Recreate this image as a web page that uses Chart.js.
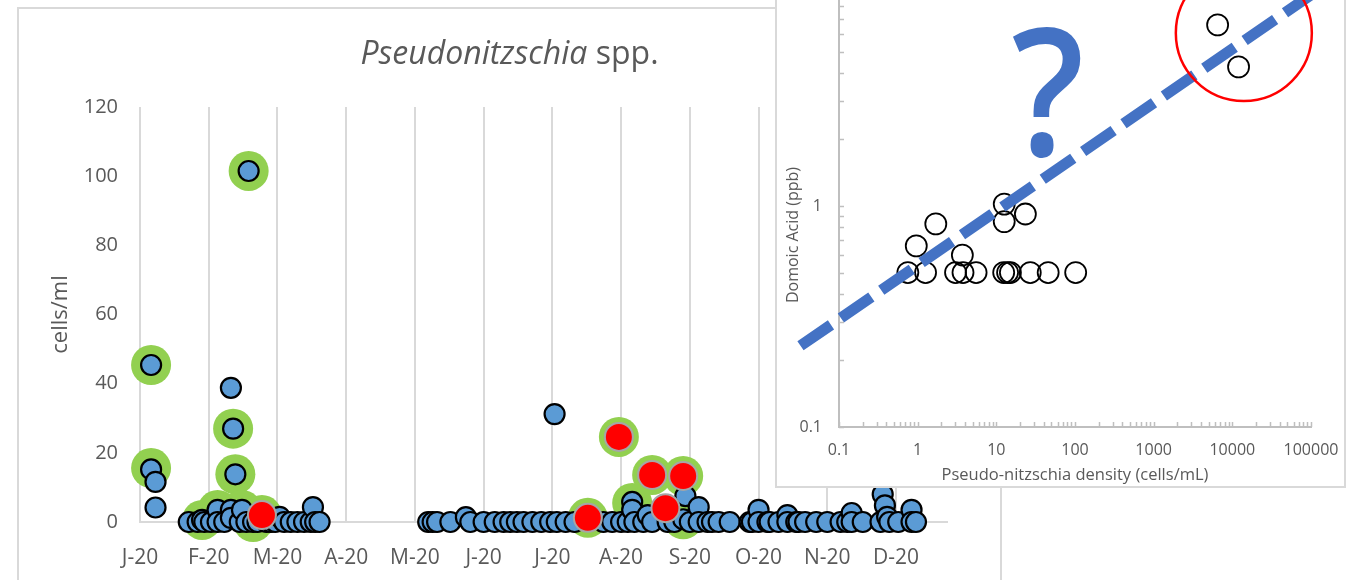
<!DOCTYPE html>
<html>
<head>
<meta charset="utf-8">
<script src="https://cdn.jsdelivr.net/npm/chart.js@4.4.1/dist/chart.umd.min.js"></script>
<style>
  html, body { margin: 0; padding: 0; background: #fff; width: 1350px; height: 580px; overflow: hidden; }
  body { position: relative; font-family: "Open Sans", sans-serif; }
  #frame { position: absolute; left: 17px; top: 7px; width: 985px; height: 640px; border: 2px solid #d9d9d9; box-sizing: border-box; }
  #cellsChart { position: absolute; left: 0; top: 0; }
  #mainTitle { position: absolute; left: 17px; top: 36px; width: 985px; text-align: center; font-size: 32px; line-height: 32px; color: #595959; white-space: nowrap; }
  #insetBox { position: absolute; left: 775px; top: -12px; width: 571px; height: 500px; border: 2px solid #d9d9d9; box-sizing: border-box; background: #fff; }
  #daChart { position: absolute; left: 776px; top: -60px; }
  #daTitle { position: absolute; left: 692px; top: 225px; width: 200px; height: 20px; line-height: 20px; text-align: center; font-size: 16px; color: #595959; transform: rotate(-90deg); white-space: nowrap; }
</style>
</head>
<body>
<div id="frame"></div>
<canvas id="cellsChart" width="1000" height="580" style="width:1000px;height:580px"></canvas>
<div id="mainTitle"><i>Pseudonitzschia</i> spp.</div>
<div id="insetBox"></div>
<canvas id="daChart" width="590" height="546" style="width:590px;height:546px"></canvas>
<div id="daTitle">Domoic Acid (ppb)</div>
<script>
// ---- Pseudonitzschia counts through 2020 (x = day of year, y = cells/ml) ----
const monthLabels = ['J-20', 'F-20', 'M-20', 'A-20', 'M-20', 'J-20', 'J-20', 'A-20', 'S-20', 'O-20', 'N-20', 'D-20'];
const monthTickDays = [0, 31, 62, 93, 124, 155, 186, 217, 248, 279, 310, 341];
const cellTicks = [0, 20, 40, 60, 80, 100, 120];

// every counted sample
const sampleDay = [
  5, 5, 7, 7, 41, 42, 43, 49,
  22, 26, 28, 29, 32, 35, 35, 38, 41, 41, 45, 46, 48, 51, 53, 57, 59, 61, 63, 65, 68, 71, 74, 77, 78, 79, 81,
  130, 132, 134, 140, 147, 149, 155, 160, 164, 167, 170, 173, 177, 181, 185, 187, 188, 192, 196, 202,
  209, 213, 217, 220, 222, 222, 223, 227, 229, 231, 238, 241, 245, 246, 248, 252, 252, 256, 258, 261, 266,
  275, 276, 279, 279, 283, 284, 288, 292, 292, 296, 297, 300, 305, 310, 316, 319, 321, 321, 326,
  334, 335, 336, 337, 338, 342, 348, 348, 350
];
const sampleCells = [
  45.4, 15.2, 11.6, 4.2, 38.8, 27.0, 13.8, 101.5,
  0, 0, 0.6, 0, 0, 3.5, 0, 0, 3.5, 1.2, 0, 3.5, 0, 0, 0, 0, 0, 0, 1.5, 0, 0, 0, 0, 0, 4.3, 0, 0,
  0, 0, 0, 0, 1.4, 0, 0, 0, 0, 0, 0, 0, 0, 0, 0, 31.2, 0, 0, 0, 0.5,
  0, 0, 0, 0, 5.8, 3.5, 0, 0, 2, 0, 0, 0, 0.8, 7.5, 0, 4.3, 0, 0, 0, 0, 0,
  0, 0, 3.5, 0, 0, 0, 0, 2, 0, 0, 0, 0, 0, 0, 0, 0, 2.6, 0, 0,
  0, 8, 4.8, 1.5, 0, 0, 3.5, 0, 0
];

// samples also analysed for domoic acid
const testedDay = [5, 5, 42, 43, 49, 28, 35, 46, 51, 55, 202, 216, 222, 231, 245, 245];
const testedCells = [45.4, 15.6, 27.0, 13.8, 101.5, 0.6, 3.5, 3.5, 0, 2.0, 1.2, 24.6, 5.5, 13.6, 13.3, 0.8];

// samples with domoic acid detected
const toxicDay = [55, 202, 216, 231, 245, 237];
const toxicCells = [2.0, 1.2, 24.6, 13.6, 13.3, 4.0];

// ---- Domoic acid vs Pseudo-nitzschia density ----
const pnDensity = [6500, 12000, 12.6, 12.6, 23.4, 1.7, 0.96, 3.7,
  0.75, 1.26, 3.03, 3.77, 5.53, 12.4, 13.9, 15.1, 27, 45.6, 102];
const domoicAcid = [6.6, 4.26, 1.02, 0.85, 0.92, 0.83, 0.66, 0.6,
  0.5, 0.5, 0.5, 0.5, 0.5, 0.5, 0.5, 0.5, 0.5, 0.5, 0.5];
const trendDensity = [0.0324, 158000];
const trendDA = [0.233, 10.1];
const ringDensity = [14000];
const ringDA = [6.06];
const densityTicks = [0.1, 1, 10, 100, 1000, 10000, 100000];
const densityLabels = ['0.1', '1', '10', '100', '1000', '10000', '100000'];
const daTicks = [0.1, 1, 10];
const daLabels = ['0.1', '1', '10'];

const pts = (xs, ys) => xs.map((x, i) => ({ x: x, y: ys[i] }));
const font = (size) => ({ family: 'Open Sans', size: size });
const GREY = '#595959';

// major + minor (2..9) tick values for a log axis
function logTicks(decades) {
  const out = [];
  decades.forEach((d, i) => {
    out.push({ value: d });
    if (i < decades.length - 1) for (let m = 2; m <= 9; m++) out.push({ value: m * d });
  });
  return out;
}
function labelFor(v, values, labels) {
  const i = values.indexOf(v);
  return i >= 0 ? labels[i] : '';
}

new Chart(document.getElementById('cellsChart'), {
  type: 'scatter',
  data: {
    datasets: [
      { label: 'DA detected', data: pts(toxicDay, toxicCells), backgroundColor: '#FF0000', borderColor: '#A6A6A6', borderWidth: 2, pointRadius: 14, order: 0, clip: false },
      { label: 'Pseudonitzschia spp.', data: pts(sampleDay, sampleCells), backgroundColor: '#5B9BD5', borderColor: '#000000', borderWidth: 2.2, pointRadius: 10, order: 1, clip: false },
      { label: 'DA analysed', data: pts(testedDay, testedCells), backgroundColor: '#92D050', borderWidth: 0, pointRadius: 20, order: 2, clip: false }
    ]
  },
  options: {
    responsive: false,
    animation: false,
    events: [],
    layout: { autoPadding: false, padding: { left: 0, right: 53, top: 107, bottom: 0 } },
    plugins: { legend: { display: false }, tooltip: { enabled: false } },
    scales: {
      x: {
        type: 'linear', min: 0, max: 364,
        afterFit(s) { s.height = 58; },
        afterBuildTicks(s) { s.ticks = monthTickDays.map(v => ({ value: v })); },
        ticks: { callback: (v, i) => monthLabels[i], color: GREY, font: font(21), padding: 23, maxRotation: 0, autoSkip: false },
        grid: { color: '#D9D9D9', lineWidth: 2, drawTicks: false },
        border: { color: '#D9D9D9', width: 2 }
      },
      y: {
        min: 0, max: 120,
        afterFit(s) { s.width = 140; },
        afterBuildTicks(s) { s.ticks = cellTicks.map(v => ({ value: v })); },
        ticks: { color: GREY, font: font(20), padding: 22 },
        grid: { display: false, drawTicks: false },
        border: { display: false },
        title: { display: true, text: 'cells/ml', color: GREY, font: font(22), padding: { top: 48, bottom: 0 } }
      }
    }
  }
});

// short tick marks pointing into the plot area
const innerTicks = {
  id: 'innerTicks',
  afterDatasetsDraw(chart) {
    const { ctx, chartArea, scales } = chart;
    ctx.save();
    ctx.strokeStyle = '#BFBFBF';
    ctx.lineWidth = 1.5;
    ctx.beginPath();
    scales.x.ticks.forEach(t => {
      const px = Math.round(scales.x.getPixelForValue(t.value)) + 0.5;
      ctx.moveTo(px, chartArea.bottom);
      ctx.lineTo(px, chartArea.bottom - 5);
    });
    scales.y.ticks.forEach(t => {
      const py = Math.round(scales.y.getPixelForValue(t.value)) + 0.5;
      ctx.moveTo(chartArea.left, py);
      ctx.lineTo(chartArea.left + 5, py);
    });
    ctx.stroke();
    ctx.restore();
  }
};

// large question mark beside the fitted line
const questionMark = {
  id: 'questionMark',
  afterDraw(chart) {
    const { ctx, chartArea } = chart;
    ctx.save();
    ctx.fillStyle = '#4472C4';
    ctx.font = '600 178px "Open Sans"';
    ctx.textAlign = 'center';
    ctx.textBaseline = 'alphabetic';
    ctx.translate(chartArea.left + 209, chartArea.top + 171);
    ctx.scale(0.9, 1);
    ctx.fillText('?', 0, 0);
    ctx.restore();
  }
};

new Chart(document.getElementById('daChart'), {
  type: 'scatter',
  data: {
    datasets: [
      { label: 'highlight', data: pts(ringDensity, ringDA), pointRadius: 68, borderColor: '#FF0000', borderWidth: 2.5, backgroundColor: 'rgba(0,0,0,0)', clip: false, order: 0 },
      { label: 'trend', data: pts(trendDensity, trendDA), showLine: true, borderColor: '#4472C4', borderWidth: 11, borderDash: [37, 12], borderCapStyle: 'butt', pointRadius: 0, clip: false, order: 1 },
      { label: 'samples', data: pts(pnDensity, domoicAcid), pointRadius: 10.5, borderColor: '#000000', borderWidth: 1.8, backgroundColor: 'rgba(255,255,255,0)', clip: false, order: 2 }
    ]
  },
  options: {
    responsive: false,
    animation: false,
    events: [],
    layout: { autoPadding: false, padding: { left: 0, right: 55, top: 45, bottom: 0 } },
    plugins: { legend: { display: false }, tooltip: { enabled: false } },
    scales: {
      x: {
        type: 'logarithmic', min: 0.1, max: 100000,
        afterFit(s) { s.height = 59; },
        afterBuildTicks(s) { s.ticks = logTicks(densityTicks); },
        ticks: { callback: v => labelFor(v, densityTicks, densityLabels), autoSkip: false, maxRotation: 0, color: GREY, font: font(16), padding: 14 },
        grid: { display: false, drawTicks: false },
        border: { color: '#BFBFBF', width: 2 },
        title: { display: true, text: 'Pseudo-nitzschia density (cells/mL)', color: GREY, font: font(16.5), padding: { top: 0, bottom: 1 } }
      },
      y: {
        type: 'logarithmic', min: 0.1, max: 10,
        afterFit(s) { s.width = 63; },
        afterBuildTicks(s) { s.ticks = logTicks(daTicks); },
        ticks: { callback: v => labelFor(v, daTicks, daLabels), autoSkip: false, color: GREY, font: font(16), padding: 17 },
        grid: { display: false, drawTicks: false },
        border: { color: '#BFBFBF', width: 2 }
      }
    }
  },
  plugins: [innerTicks, questionMark]
});
</script>
</body>
</html>
